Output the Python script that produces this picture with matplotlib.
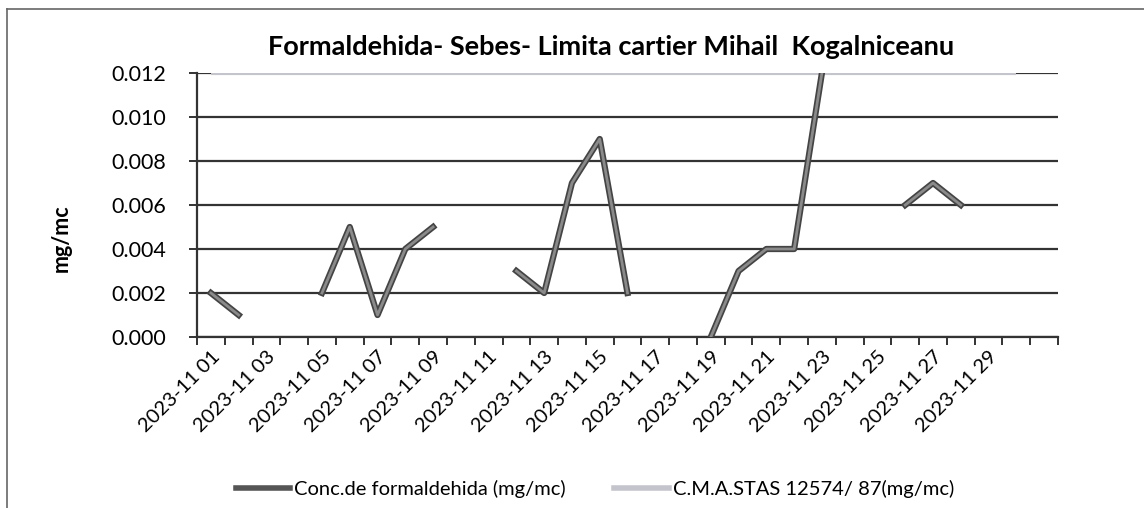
import numpy as np
import matplotlib
matplotlib.use("Agg")
import matplotlib.pyplot as plt
from matplotlib.lines import Line2D

plt.rcParams['font.family'] = ['Lato', 'DejaVu Sans']

# days of November 2023 (one extra empty slot at the end, as in the source chart)
days = ["2023-11 %02d" % d for d in range(1, 31)] + [""]
conc = [0.002, 0.001, np.nan, np.nan, 0.002, 0.005, 0.001, 0.004, 0.005, np.nan,
        np.nan, 0.003, 0.002, 0.007, 0.009, 0.002, np.nan, np.nan, 0.000, 0.003,
        0.004, 0.004, 0.012, np.nan, np.nan, 0.006, 0.007, 0.006, np.nan, np.nan, np.nan]
cma = [0.012] * 30 + [np.nan]
yticks = [0.000, 0.002, 0.004, 0.006, 0.008, 0.010, 0.012]

fig = plt.figure(figsize=(11.44, 5.08), dpi=100)
ax = fig.add_axes([197/1144, 1-337/508, (1058-197)/1144, (337-73)/508])

x = np.arange(len(days))
ax.set_xlim(-0.5, len(days)-0.5)
ax.set_ylim(0, 0.012)

# gridlines
for yv in yticks:
    ax.axhline(yv, color='#333333', lw=1.6, zorder=1)

ax.plot(x, cma, color='#c4c4cc', lw=3, zorder=2, solid_capstyle='butt')
ax.plot(x, conc, color='#444444', lw=4.5, zorder=3)
ax.plot(x, conc, color='#8a8a8a', lw=2.0, zorder=4)

for s in ['top', 'right']:
    ax.spines[s].set_visible(False)
for s in ['left', 'bottom']:
    ax.spines[s].set_color('#333333')
    ax.spines[s].set_linewidth(1.6)

ax.set_yticks(yticks)
ax.set_yticklabels(["%.3f" % v for v in yticks], fontsize=15.5)
ax.tick_params(axis='y', length=6, width=1.4, color='#333333', pad=16)

ax.set_xticks(np.arange(-0.5, len(days), 1.0), minor=True)
ax.set_xticks(x[:30:2])
ax.set_xticklabels(days[:30:2], rotation=45, ha='right', va='top',
                   rotation_mode='anchor', fontsize=14.5)
ax.tick_params(axis='x', which='major', length=0, pad=8)
ax.tick_params(axis='x', which='minor', length=6, width=1.4, color='#333333')

ax.set_ylabel("mg/mc", fontsize=15.5, fontweight='bold')
ax.yaxis.set_label_coords(-0.146, 0.375)

fig.text(0.534, 1-47/508, "Formaldehida- Sebes- Limita cartier Mihail  Kogalniceanu",
         ha='center', va='center', fontsize=19.5, fontweight='bold')

handles = [Line2D([], [], color='#555555', lw=4),
           Line2D([], [], color='#c4c4cc', lw=4)]
fig.legend(handles, ["Conc.de formaldehida (mg/mc)", "C.M.A.STAS 12574/ 87(mg/mc)"],
           loc='center', bbox_to_anchor=(0.52, 0.038), ncol=2, frameon=False,
           fontsize=14.5, handlelength=2.7, handletextpad=0.2, columnspacing=2.4)

# outer frame (top and left edges visible in the scan)
fig.add_artist(Line2D([7/1144, 1], [1-9/508, 1-9/508], color='#666666', lw=1.2))
fig.add_artist(Line2D([7/1144, 7/1144], [0, 1-9/508], color='#666666', lw=1.2))

fig.savefig("out.png", dpi=100)
